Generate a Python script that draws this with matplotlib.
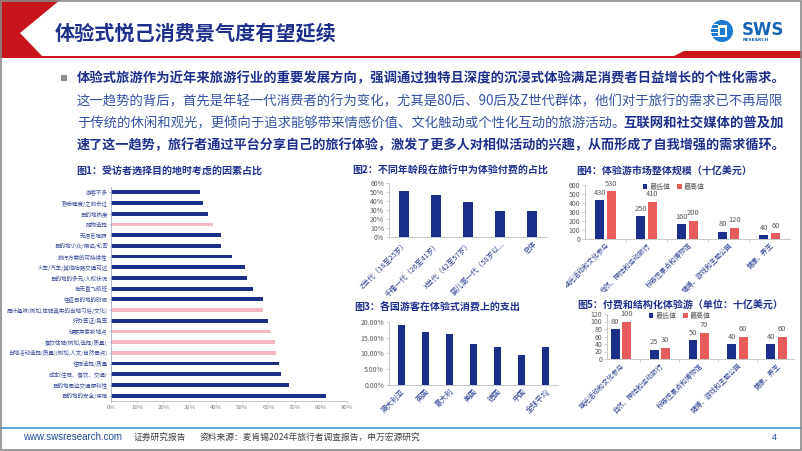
import matplotlib
matplotlib.use("Agg")
import matplotlib.pyplot as plt
from matplotlib.patches import Polygon, Rectangle, Circle
from matplotlib.transforms import Bbox
from matplotlib.ticker import FuncFormatter

plt.rcParams['font.family'] = ['Noto Sans CJK SC', 'DejaVu Sans']

W, H = 802, 451

# ---- datos ----
titulo = "体验式悦己消费景气度有望延续"

parrafo_1 = "体验式旅游作为近年来旅游行业的重要发展方向，强调通过独特且深度的沉浸式体验满足消费者日益增长的个性化需求。"
parrafo_2 = "这一趋势的背后，首先是年轻一代消费者的行为变化，尤其是80后、90后及Z世代群体，他们对于旅行的需求已不再局限"
parrafo_3a = "于传统的休闲和观光，更倾向于追求能够带来情感价值、文化触动或个性化互动的旅游活动。"
parrafo_3b = "互联网和社交媒体的普及加"
parrafo_4 = "速了这一趋势，旅行者通过平台分享自己的旅行体验，激发了更多人对相似活动的兴趣，从而形成了自我增强的需求循环。"

factores = ["游客不多", "熟悉程度/之前去过", "目的地热度", "购物选择", "无语言障碍",
            "目的地小众/偏远/私密", "旅行方案的可持续性", "火车/汽车/其他陆路交通可达",
            "目的地的多元/人权状况", "有无直飞航班", "往返目的地的时间",
            "周计趣味(例如,体验真实的当地习俗/文化)", "好办签证/免签", "想要探索新地点",
            "餐饮体验(例如,选择/质量)", "当地活动选择(质量)(例如,人文/自然景点)",
            "住宿选择/质量", "成本(住宿、餐饮、交通)", "目的地周边交通便利性", "目的地的安全/保障"]
factores_valor = [0.34, 0.35, 0.37, 0.39, 0.42, 0.42, 0.46, 0.51, 0.52, 0.54, 0.58,
                  0.58, 0.60, 0.61, 0.625, 0.63, 0.64, 0.65, 0.68, 0.82]
factores_destacados = ["购物选择", "周计趣味(例如,体验真实的当地习俗/文化)", "想要探索新地点",
                       "餐饮体验(例如,选择/质量)", "当地活动选择(质量)(例如,人文/自然景点)"]

edades = ["Z世代（18至25岁）", "千禧一代（26至41岁）", "X世代（42至57岁）", "婴儿潮一代（58岁以...", "总体"]
edades_valor = [0.52, 0.47, 0.39, 0.29, 0.29]

paises = ["澳大利亚", "英国", "意大利", "美国", "德国", "中国", "全球平均"]
paises_valor = [0.192, 0.169, 0.161, 0.130, 0.121, 0.095, 0.121]

tipos = ["观光活动和文化参与", "自然、探险和运动旅行", "标志性景点和博物馆", "赌博、游戏和主题公园", "健康、养生"]
mercado_min = [430, 250, 160, 80, 40]
mercado_max = [530, 410, 200, 120, 60]
pagado_min = [80, 25, 50, 40, 40]
pagado_max = [100, 30, 70, 60, 60]

AZUL = "#1E2F8C"
AZUL_TXT = "#3352A3"
BARRA = "#1B2E8A"
ROSA = "#F4B9C0"
ROJO = "#E85C5C"
GRIS = "#595959"
ROJO_CAB = "#C8151B"

fig = plt.figure(figsize=(W / 100, H / 100), dpi=100)

fondo = fig.add_axes([0, 0, 1, 1])
fondo.set_xlim(0, W)
fondo.set_ylim(H, 0)
fondo.axis("off")

# cabecera
fondo.add_patch(Polygon([(0, 0), (60, 0), (20, 33), (42, 56), (0, 56)], closed=True, color=ROJO_CAB, lw=0))
fondo.add_patch(Rectangle((0, 55.5), W, 2, color=ROJO_CAB, lw=0))
fondo.add_patch(Polygon([(672, 57), (684, 51), (W, 51), (W, 57)], closed=True, color=ROJO_CAB, lw=0))
fondo.text(55, 34, titulo, fontsize=14.5, fontweight="bold", color=AZUL, va="center", ha="left")

# logo
fondo.add_patch(Circle((722, 31), 11, color="#1C7BD0", lw=0))
for yy in [24, 28, 32, 36]:
    fondo.add_patch(Rectangle((711, yy), 7, 1.3, color="white", lw=0))
fondo.add_patch(Rectangle((718, 25), 9, 12, color="white", lw=0))
fondo.add_patch(Rectangle((720, 27.5), 5, 7, color="#1C7BD0", lw=0))
fondo.text(742, 30, "SWS", fontsize=12, fontweight="bold", color="#1764B4", va="center", ha="left",
           family="DejaVu Sans")
fondo.text(743, 40, "RESEARCH", fontsize=3.2, fontweight="bold", color="#1764B4", va="center", ha="left",
           family="DejaVu Sans")

# texto
fondo.add_patch(Rectangle((61, 75), 6, 6, color="#8C8C8C", lw=0))
fs = 9.6
fondo.text(77, 78, parrafo_1, fontsize=fs, fontweight="bold", color=AZUL, va="center")
fondo.text(77, 101, parrafo_2, fontsize=fs, color=AZUL_TXT, va="center")
fondo.text(77, 123, parrafo_3a, fontsize=fs, color=AZUL_TXT, va="center")
fondo.text(784, 123, parrafo_3b, fontsize=fs, fontweight="bold", color=AZUL, va="center", ha="right")
fondo.text(77, 145, parrafo_4, fontsize=9.45, fontweight="bold", color=AZUL, va="center")

# titulos de graficos
ft = 7.2
fondo.text(76, 171, "图1：受访者选择目的地时考虑的因素占比", fontsize=ft, fontweight="bold", color=AZUL, va="center")
fondo.text(352, 171, "图2：不同年龄段在旅行中为体验付费的占比", fontsize=ft, fontweight="bold", color=AZUL, va="center")
fondo.text(576, 171.5, "图4：体验游市场整体规模（十亿美元）", fontsize=ft, fontweight="bold", color=AZUL, va="center")
fondo.text(354, 306, "图3：各国游客在体验式消费上的支出", fontsize=ft, fontweight="bold", color=AZUL, va="center")
fondo.text(577, 305.5, "图5：付费和结构化体验游（单位：十亿美元）", fontsize=ft, fontweight="bold", color=AZUL, va="center")

# pie de pagina
fondo.add_patch(Rectangle((0, 427), W, 1.5, color="#5AA6DC", lw=0))
fondo.text(23, 437.5, "www.swsresearch.com", fontsize=7, color="#1F4E9C", va="center", family="Liberation Sans")
fondo.text(134, 437.5, "证券研究报告", fontsize=6.3, color="#404040", va="center")
fondo.text(200, 437.5, "资料来源：麦肯锡2024年旅行者调查报告，申万宏源研究", fontsize=6.3, color="#404040", va="center")
fondo.text(772, 437.5, "4", fontsize=6.5, color="#1F4E9C", va="center", family="Liberation Sans")

# borde
fondo.add_patch(Rectangle((0.8, 0.8), W - 1.6, H - 1.6, fill=False, ec="#8A8A8A", lw=1.2))


def nuevo_eje(izq, arriba, der, abajo):
    return fig.add_axes([izq / W, 1 - abajo / H, (der - izq) / W, (abajo - arriba) / H])


def estilo(ax, tam_cat=5.3):
    for lado in ["top", "right"]:
        ax.spines[lado].set_visible(False)
    for lado in ["left", "bottom"]:
        ax.spines[lado].set_color("#BFBFBF")
        ax.spines[lado].set_linewidth(0.6)
    ax.tick_params(axis="y", labelsize=5, colors="#BFBFBF", labelcolor=GRIS, length=2, width=0.5, pad=1.5)
    ax.tick_params(axis="x", length=0, labelsize=tam_cat, labelcolor="#2B3D91", pad=2)


# figura 1
ax1 = nuevo_eje(111, 187, 347, 401)
pos = list(range(len(factores)))
colores = [ROSA if f in factores_destacados else BARRA for f in factores]
ax1.barh(pos, factores_valor, height=0.36, color=colores)
ax1.set_ylim(len(factores) - 0.5, -0.5)
ax1.set_xlim(0, 0.9)
ax1.set_yticks(pos)
ax1.set_yticklabels(factores)
ax1.set_xticks([i / 10 for i in range(10)])
ax1.xaxis.set_major_formatter(FuncFormatter(lambda v, p: f"{v * 100:.0f}%"))
for lado in ["top", "right"]:
    ax1.spines[lado].set_visible(False)
ax1.spines["left"].set_color("#A3ADCF")
ax1.spines["left"].set_linewidth(0.6)
ax1.spines["bottom"].set_color("#BFBFBF")
ax1.spines["bottom"].set_linewidth(0.6)
ax1.tick_params(axis="y", labelsize=4.0, colors="#A3ADCF", labelcolor="#3C4E9A", length=1.5, width=0.5, pad=1)
ax1.tick_params(axis="x", labelsize=4.3, colors="#BFBFBF", labelcolor="#7F7F7F", length=1.5, width=0.5, pad=1.5)

# figura 2
ax2 = nuevo_eje(389, 183.3, 547, 237.3)
ax2.bar(range(len(edades)), edades_valor, width=0.31, color=BARRA)
ax2.set_xlim(-0.45, len(edades) - 0.55)
ax2.set_ylim(0, 0.6)
ax2.set_yticks([i / 10 for i in range(7)])
ax2.yaxis.set_major_formatter(FuncFormatter(lambda v, p: f"{v * 100:.0f}%"))
ax2.set_xticks(range(len(edades)))
ax2.set_xticklabels(edades, rotation=45, ha="right", rotation_mode="anchor")
estilo(ax2, 5.2)

# figura 3
ax3 = nuevo_eje(389, 322.3, 558, 384.7)
ax3.bar(range(len(paises)), paises_valor, width=0.29, color=BARRA)
ax3.set_xlim(-0.5, len(paises) - 0.5)
ax3.set_ylim(0, 0.2)
ax3.set_yticks([0, 0.05, 0.10, 0.15, 0.20])
ax3.yaxis.set_major_formatter(FuncFormatter(lambda v, p: f"{v * 100:.2f}%"))
ax3.set_xticks(range(len(paises)))
ax3.set_xticklabels(paises, rotation=45, ha="right", rotation_mode="anchor")
estilo(ax3, 5.4)


def agrupadas(ax, minimos, maximos, tope, paso, xlim, clip, leyenda_xy):
    x = list(range(len(tipos)))
    b1 = ax.bar([i - 0.143 for i in x], minimos, width=0.23, color=BARRA, label="最低值")
    b2 = ax.bar([i + 0.143 for i in x], maximos, width=0.23, color=ROJO, label="最高值")
    for barras, vals in [(b1, minimos), (b2, maximos)]:
        for b, v in zip(barras, vals):
            ax.annotate(f"{v}", (b.get_x() + b.get_width() / 2, v), xytext=(0, 2.5),
                        textcoords="offset points", ha="center", va="bottom", fontsize=5.4, color=GRIS)
    ax.set_xlim(*xlim)
    ax.set_ylim(0, tope)
    ax.set_yticks(range(0, tope + 1, paso))
    ax.set_xticks(x)
    ax.set_xticklabels(tipos, rotation=45, ha="right", rotation_mode="anchor")
    ax.set_xticks([i + 0.5 for i in x[:-1]], minor=True)
    estilo(ax, 4.9)
    ax.tick_params(axis="x", which="minor", length=2.5, width=0.5, colors="#BFBFBF")
    for t in ax.get_xticklabels():
        t.set_clip_on(True)
        t.set_clip_box(clip)
    ax.legend(ncol=2, loc="center", bbox_to_anchor=(leyenda_xy[0] / W, 1 - leyenda_xy[1] / H),
              bbox_transform=fig.transFigure, frameon=False, fontsize=5, handlelength=0.6,
              handleheight=0.6, handletextpad=0.3, columnspacing=1.0, labelcolor=GRIS)


ax4 = nuevo_eje(585, 184.7, 790, 238.7)
agrupadas(ax4, mercado_min, mercado_max, 600, 100, (-0.5, 4.5),
          Bbox.from_extents(566, H - 292, 800, H - 239), (674, 187))

ax5 = nuevo_eje(607, 314, 794, 359)
agrupadas(ax5, pagado_min, pagado_max, 120, 20, (-0.35, 4.45),
          Bbox.from_extents(566, H - 422, 800, H - 359), (680, 316))

fig.savefig("out.png", dpi=100)
